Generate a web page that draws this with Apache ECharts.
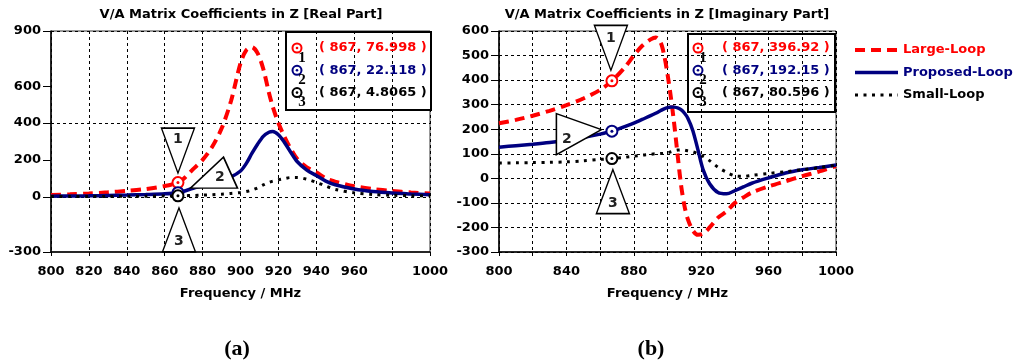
<!DOCTYPE html>
<html>
<head>
<meta charset="utf-8">
<script src="https://cdn.jsdelivr.net/npm/echarts@6/dist/echarts.min.js"></script>
<style>
  html, body { margin: 0; padding: 0; background: #fff; }
  #main { width: 1013px; height: 362px; }
</style>
</head>
<body>
<div id="main"></div>
<script>
// frequency / MHz
const markerFreq = 867;

// real part (a)
const freqReal = [800, 810, 820, 830, 840, 850, 860, 867, 870, 875, 880, 885, 890, 895, 900, 903, 906, 909, 912, 915, 917, 920, 923, 926, 930, 935, 940, 945, 950, 960, 970, 980, 990, 1000];
const largeReal = [10, 13, 18, 24, 32, 42, 58, 76.998, 98, 150, 200, 270, 370, 520, 725, 795, 812, 780, 695, 565, 490, 400, 330, 270, 205, 160, 133, 100, 82, 57, 42, 31, 23, 18];
const proposedReal = [3, 4, 5, 7, 9, 12, 16, 22.118, 30, 46, 60, 75, 90, 108, 140, 180, 235, 285, 328, 350, 354, 337, 298, 250, 190, 145, 115, 85, 65, 42, 28, 20, 15, 11];
const smallReal = [1, 1, 1.5, 2, 2.5, 3, 4, 4.8065, 5.5, 7, 9, 11, 14, 18, 23, 28, 36, 48, 64, 78, 85, 92, 98, 104, 105, 95, 78, 58, 40, 21, 12, 8, 6, 5];

// imaginary part (b)
const freqImag = [800, 810, 820, 830, 840, 850, 860, 867, 875, 880, 885, 890, 893, 896, 898, 900, 902, 904, 906, 908, 910, 912, 915, 918, 921, 925, 930, 935, 940, 945, 950, 960, 970, 980, 990, 1000];
const largeImag = [224, 238, 255, 275, 298, 325, 360, 396.92, 455, 500, 540, 566, 574, 552, 502, 425, 330, 220, 95, -25, -110, -165, -212, -230, -226, -200, -160, -135, -100, -78, -58, -33, -12, 9, 28, 50];
const proposedImag = [127, 133, 139, 146, 155, 166, 180, 192.15, 212, 225, 240, 255, 265, 276, 283, 288, 291, 290, 287, 280, 266, 246, 195, 118, 38, -22, -58, -63, -50, -35, -20, 2, 22, 35, 44, 54];
const smallImag = [62, 63, 64, 65, 67, 71, 77, 80.596, 86, 90, 95, 98, 100, 101, 102, 104, 108, 112, 115, 116, 115, 112, 108, 100, 90, 72, 45, 25, 10, 8, 12, 20, 27, 35, 43, 54];

// tick labels
const xLabelsReal = [800, 820, 840, 860, 880, 900, 920, 940, 960, 1000];
const yLabelsReal = [-300, 0, 200, 400, 600, 900];
const xLabelsImag = [800, 840, 880, 920, 960, 1000];

const seriesNames = ['Large-Loop', 'Proposed-Loop', 'Small-Loop'];
const colors = ['#ff0000', '#000080', '#000000'];

const font = 'DejaVu Sans';
const chart = echarts.init(document.getElementById('main'));

function pairs(xs, ys) {
  return xs.map((x, i) => [x, ys[i]]);
}
function valueAt(xs, ys, x) {
  return ys[xs.indexOf(x)];
}

const lineStyles = [
  { color: colors[0], width: 4, type: [10, 6] },
  { color: colors[1], width: 3.5, type: 'solid' },
  { color: colors[2], width: 3, type: [3, 5.5] }
];

// triangles pointing at the markers
const triReal = [
  { path: 'path://M0,0L33,0L16.5,45Z', size: [33, 45], offset: [0, -32], labelOffset: [0, -11] },
  { path: 'path://M0,31L33,0L47,31Z', size: [47, 31], offset: [36, -20], labelOffset: [6, 5] },
  { path: 'path://M16.5,0L33,44L0,44Z', size: [33, 44], offset: [1, 34], labelOffset: [0, 11] }
];
const triImag = [
  { path: 'path://M0,0L33,0L16.5,45Z', size: [33, 45], offset: [-1, -33], labelOffset: [0, -10] },
  { path: 'path://M0,0L45,16L0,41Z', size: [45, 41], offset: [-33, 3], labelOffset: [-12, 5] },
  { path: 'path://M16.5,0L33,44L0,44Z', size: [33, 44], offset: [1, 33], labelOffset: [0, 12] }
];

function markers(x, y, color, tri, num) {
  return {
    symbolKeepAspect: false,
    animation: false,
    data: [
      { coord: [x, y], symbol: 'circle', symbolSize: 11, itemStyle: { color: '#fff', borderColor: color, borderWidth: 2 }, label: { show: false } },
      { coord: [x, y], symbol: 'circle', symbolSize: 3, itemStyle: { color: color }, label: { show: false } },
      {
        coord: [x, y], symbol: tri.path, symbolSize: tri.size, symbolOffset: tri.offset, symbolKeepAspect: false,
        itemStyle: { color: '#fff', borderColor: '#000', borderWidth: 1.5 },
        label: { show: true, position: 'inside', formatter: String(num), offset: tri.labelOffset, color: '#222', fontFamily: font, fontWeight: 'bold', fontSize: 14 }
      }
    ]
  };
}

function makeSeries(idx, xs, ys, gridIdx, tri) {
  return {
    name: seriesNames[idx],
    type: 'line',
    xAxisIndex: gridIdx,
    yAxisIndex: gridIdx,
    data: pairs(xs, ys),
    symbol: 'none',
    smooth: 0.3,
    lineStyle: lineStyles[idx],
    itemStyle: { color: colors[idx] },
    markPoint: markers(markerFreq, valueAt(xs, ys, markerFreq), colors[idx], tri[idx], idx + 1)
  };
}

const labelText = { fontFamily: font, fontWeight: 'bold', fontSize: 13, color: '#000' };
const dashGrid = { type: [3, 3], color: '#000', width: 1 };

function readoutBox(x, y, w, h, xs, list, rowTop, ringX, textX) {
  const children = [
    { type: 'rect', shape: { x: 0, y: 0, width: w, height: h }, style: { fill: '#fff', stroke: '#000', lineWidth: 2 } }
  ];
  list.forEach((ys, i) => {
    const cy = rowTop + i * 22.3;
    const c = colors[i];
    children.push({ type: 'circle', z: 101, shape: { cx: ringX, cy: cy, r: 4.5 }, style: { fill: '#fff', stroke: c, lineWidth: 2 } });
    children.push({ type: 'circle', z: 101, shape: { cx: ringX, cy: cy, r: 1.3 }, style: { fill: c } });
    children.push({ type: 'text', z: 102, x: ringX + 5, y: cy + 10, style: { text: String(i + 1), font: 'bold 15px "Liberation Serif"', fill: '#000', align: 'center', verticalAlign: 'middle' } });
    children.push({ type: 'text', z: 102, x: textX, y: cy, style: { text: '( ' + markerFreq + ', ' + valueAt(xs, ys, markerFreq) + ' )', fontFamily: font, fontWeight: 'bold', fontSize: 13, fill: c, verticalAlign: 'middle' } });
  });
  return { type: 'group', x: x, y: y, z: 100, children: children };
}

const option = {
  animation: false,
  backgroundColor: '#fff',
  grid: [
    { left: 51, top: 31, width: 379, height: 221, show: true, borderColor: '#333', borderWidth: 1 },
    { left: 499, top: 31, width: 337, height: 221, show: true, borderColor: '#333', borderWidth: 1 }
  ],
  legend: {
    orient: 'vertical',
    left: 848,
    top: 38,
    itemWidth: 43,
    itemHeight: 14,
    itemGap: 8.5,
    itemStyle: { opacity: 0 },
    data: seriesNames.map((n, i) => ({ name: n, textStyle: { color: colors[i] }, lineStyle: lineStyles[i] })),
    textStyle: { fontFamily: font, fontWeight: 'bold', fontSize: 13, lineHeight: 14 }
  },
  xAxis: [
    {
      type: 'value', gridIndex: 0, min: 800, max: 1000, interval: 20,
      axisLine: { onZero: false, lineStyle: { color: '#000', width: 1.5 } },
      axisTick: { length: 4, lineStyle: { color: '#000' } },
      axisLabel: Object.assign({ margin: 13, showMinLabel: true, showMaxLabel: true, formatter: v => (xLabelsReal.includes(v) ? String(v) : '') }, labelText),
      splitLine: { show: true, lineStyle: dashGrid },
      name: 'Frequency / MHz', nameLocation: 'middle', nameGap: 35, nameTextStyle: labelText
    },
    {
      type: 'value', gridIndex: 1, min: 800, max: 1000, interval: 20,
      axisLine: { onZero: false, lineStyle: { color: '#000', width: 1.5 } },
      axisTick: { length: 4, lineStyle: { color: '#000' } },
      axisLabel: Object.assign({ margin: 13, showMinLabel: true, showMaxLabel: true, formatter: v => (xLabelsImag.includes(v) ? String(v) : '') }, labelText),
      splitLine: { show: true, lineStyle: dashGrid },
      name: 'Frequency / MHz', nameLocation: 'middle', nameGap: 35, nameTextStyle: labelText
    }
  ],
  yAxis: [
    {
      type: 'value', gridIndex: 0, min: -300, max: 900, interval: 100,
      axisLine: { show: true, onZero: false, lineStyle: { color: '#000', width: 1.5 } },
      axisTick: { show: true, length: 8, customValues: yLabelsReal, lineStyle: { color: '#000' } },
      axisLabel: Object.assign({ margin: 10, showMinLabel: true, showMaxLabel: true, formatter: v => (yLabelsReal.includes(v) ? String(v) : '') }, labelText),
      splitLine: { show: true, lineStyle: { type: [3, 3], width: 1, color: ['transparent', '#000'] } }
    },
    {
      type: 'value', gridIndex: 1, min: -300, max: 600, interval: 100,
      axisLine: { show: true, onZero: false, lineStyle: { color: '#000', width: 1.5 } },
      axisTick: { show: true, length: 8, lineStyle: { color: '#000' } },
      axisLabel: Object.assign({ margin: 10, showMinLabel: true, showMaxLabel: true }, labelText),
      splitLine: { show: true, lineStyle: dashGrid }
    }
  ],
  series: [
    makeSeries(0, freqReal, largeReal, 0, triReal),
    makeSeries(1, freqReal, proposedReal, 0, triReal),
    makeSeries(2, freqReal, smallReal, 0, triReal),
    makeSeries(0, freqImag, largeImag, 1, triImag),
    makeSeries(1, freqImag, proposedImag, 1, triImag),
    makeSeries(2, freqImag, smallImag, 1, triImag)
  ],
  graphic: [
    { type: 'text', x: 241, y: 15, style: { text: 'V/A Matrix Coefficients in Z [Real Part]', fontFamily: font, fontWeight: 'bold', fontSize: 13, fill: '#000', align: 'center', verticalAlign: 'middle' } },
    { type: 'text', x: 667, y: 15, style: { text: 'V/A Matrix Coefficients in Z [Imaginary Part]', fontFamily: font, fontWeight: 'bold', fontSize: 13, fill: '#000', align: 'center', verticalAlign: 'middle' } },
    { type: 'text', x: 237, y: 349, style: { text: '(a)', fontFamily: 'Liberation Serif', fontWeight: 'bold', fontSize: 22, fill: '#000', align: 'center', verticalAlign: 'middle' } },
    { type: 'text', x: 651, y: 349, style: { text: '(b)', fontFamily: 'Liberation Serif', fontWeight: 'bold', fontSize: 22, fill: '#000', align: 'center', verticalAlign: 'middle' } },
    readoutBox(286, 32, 145, 78, freqReal, [largeReal, proposedReal, smallReal], 16, 11, 33),
    readoutBox(688, 34, 147, 78, freqImag, [largeImag, proposedImag, smallImag], 14, 10, 34)
  ]
};

chart.setOption(option);
</script>
</body>
</html>
